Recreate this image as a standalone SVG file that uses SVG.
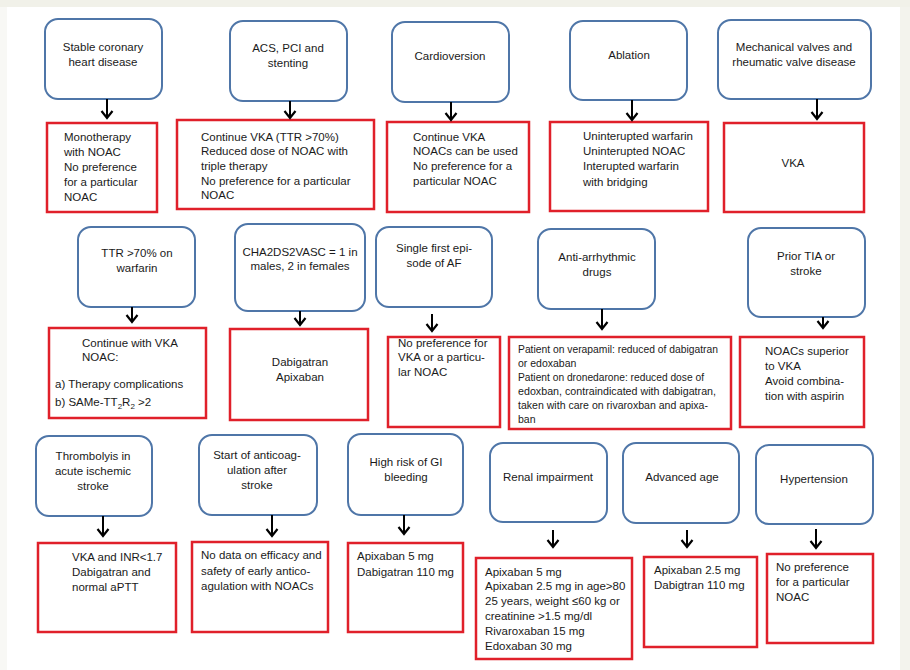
<svg xmlns="http://www.w3.org/2000/svg" width="910" height="670" viewBox="0 0 910 670">
<defs>
<style>
.n rect{fill:#fff;stroke:#4f76a8;stroke-width:2}
.r rect{fill:#fff;stroke:#e0202a;stroke-width:2.5}
text{font-family:"Liberation Sans",Arial,sans-serif;font-size:11.5px;fill:#1a1a1a}
.c{text-anchor:middle}
.s{font-size:10.5px}
.e line{stroke:#000;stroke-width:2;marker-end:url(#ah)}
</style>
<marker id="ah" viewBox="-1 -7 10 14" refX="7" refY="0" markerWidth="10" markerHeight="14" markerUnits="userSpaceOnUse" orient="auto">
<path d="M0,-5.5 L7,0 L0,5.5" fill="none" stroke="#000" stroke-width="2.2"/>
</marker>
</defs>
<rect width="910" height="670" fill="#fff"/>
<rect width="910" height="7" fill="#f1f1e9"/>
<rect x="0" y="7" width="7" height="663" fill="#f8f8f5"/>
<rect x="900" y="7" width="10" height="663" fill="#f3f3ed"/>

<g id="n1" class="n"><rect x="45" y="19" width="117" height="80" rx="13"/><text class="c" x="103" y="51">Stable coronary</text><text class="c" x="103" y="66">heart disease</text></g>
<g id="n2" class="n"><rect x="230" y="21" width="117" height="80" rx="13"/><text class="c" x="288" y="52">ACS, PCI and</text><text class="c" x="288" y="67">stenting</text></g>
<g id="n3" class="n"><rect x="392" y="22" width="117" height="80" rx="13"/><text class="c" x="450" y="60">Cardioversion</text></g>
<g id="n4" class="n"><rect x="570" y="21" width="117" height="79" rx="13"/><text class="c" x="629" y="59">Ablation</text></g>
<g id="n5" class="n"><rect x="718" y="20" width="153" height="79" rx="13"/><text class="c" x="794" y="51">Mechanical valves and</text><text class="c" x="794" y="66">rheumatic valve disease</text></g>

<g id="r1" class="r"><rect x="47" y="123" width="110" height="89"/><text x="64" y="141">Monotherapy</text><text x="64" y="156">with NOAC</text><text x="64" y="171">No preference</text><text x="64" y="186">for a particular</text><text x="64" y="201">NOAC</text></g>
<g id="r2" class="r"><rect x="177" y="120" width="197" height="89"/><text x="201" y="141">Continue VKA (TTR &gt;70%)</text><text x="201" y="155">Reduced dose of NOAC with</text><text x="201" y="170">triple therapy</text><text x="201" y="185">No preference for a particular</text><text x="201" y="199">NOAC</text></g>
<g id="r3" class="r"><rect x="387" y="122" width="142" height="90"/><text x="413" y="141">Continue VKA</text><text x="413" y="155">NOACs can be used</text><text x="413" y="170">No preference for a</text><text x="413" y="185">particular NOAC</text></g>
<g id="r4" class="r"><rect x="550" y="122" width="158" height="89"/><text x="583" y="140">Uninterupted warfarin</text><text x="583" y="155">Uninterupted NOAC</text><text x="583" y="170">Interupted warfarin</text><text x="583" y="186">with bridging</text></g>
<g id="r5" class="r"><rect x="724" y="123" width="140" height="89"/><text class="c" x="793" y="167">VKA</text></g>

<g id="n6" class="n"><rect x="78" y="227" width="117" height="80" rx="13"/><text class="c" x="137" y="257">TTR &gt;70% on</text><text class="c" x="137" y="272">warfarin</text></g>
<g id="n7" class="n"><rect x="235" y="224" width="130" height="87" rx="13"/><text class="c" x="300" y="256">CHA2DS2VASC = 1 in</text><text class="c" x="300" y="270">males, 2 in females</text></g>
<g id="n8" class="n"><rect x="376" y="227" width="116" height="80" rx="13"/><text class="c" x="434" y="252">Single first epi-</text><text class="c" x="434" y="267">sode of AF</text></g>
<g id="n9" class="n"><rect x="538" y="229" width="117" height="80" rx="13"/><text class="c" x="597" y="261">Anti-arrhythmic</text><text class="c" x="597" y="276">drugs</text></g>
<g id="n10" class="n"><rect x="748" y="228" width="117" height="89" rx="13"/><text class="c" x="806" y="260">Prior TIA or</text><text class="c" x="806" y="275">stroke</text></g>

<g id="r6" class="r"><rect x="49" y="328" width="157" height="90"/><text x="82" y="347">Continue with VKA</text><text x="82" y="361">NOAC:</text><text x="55" y="388">a) Therapy complications</text><text x="55" y="406">b) SAMe-TT<tspan font-size="8" dy="3">2</tspan><tspan dy="-3">R</tspan><tspan font-size="8" dy="3">2</tspan><tspan dy="-3"> &gt;2</tspan></text></g>
<g id="r7" class="r"><rect x="230" y="329" width="138" height="91"/><text class="c" x="300" y="366">Dabigatran</text><text class="c" x="300" y="381">Apixaban</text></g>
<g id="r8" class="r"><rect x="388" y="337" width="112" height="90"/><text x="398" y="347">No preference for</text><text x="398" y="361">VKA or a particu-</text><text x="398" y="376">lar NOAC</text></g>
<g id="r9" class="r"><rect x="509" y="337" width="222" height="92"/><text class="s" x="518" y="353" textLength="200" lengthAdjust="spacingAndGlyphs">Patient on verapamil: reduced of dabigatran</text><text class="s" x="518" y="367">or edoxaban</text><text class="s" x="518" y="381" textLength="186" lengthAdjust="spacingAndGlyphs">Patient on dronedarone: reduced dose of</text><text class="s" x="518" y="395" textLength="198" lengthAdjust="spacingAndGlyphs">edoxban, contraindicated with dabigatran,</text><text class="s" x="518" y="409" textLength="190" lengthAdjust="spacingAndGlyphs">taken with care on rivaroxban and apixa-</text><text class="s" x="518" y="423">ban</text></g>
<g id="r10" class="r"><rect x="740" y="337" width="124" height="90"/><text x="765" y="355">NOACs superior</text><text x="765" y="370">to VKA</text><text x="765" y="385">Avoid combina-</text><text x="765" y="400">tion with aspirin</text></g>

<g id="n11" class="n"><rect x="36" y="436" width="116" height="80" rx="13"/><text class="c" x="93" y="460">Thrombolyis in</text><text class="c" x="93" y="475">acute ischemic</text><text class="c" x="93" y="490">stroke</text></g>
<g id="n12" class="n"><rect x="199" y="435" width="118" height="80" rx="13"/><text class="c" x="257" y="459">Start of anticoag-</text><text class="c" x="257" y="474">ulation after</text><text class="c" x="257" y="489">stroke</text></g>
<g id="n13" class="n"><rect x="348" y="434" width="115" height="81" rx="13"/><text class="c" x="406" y="466">High risk of GI</text><text class="c" x="406" y="481">bleeding</text></g>
<g id="n14" class="n"><rect x="490" y="443" width="117" height="79" rx="13"/><text class="c" x="548" y="481">Renal impairment</text></g>
<g id="n15" class="n"><rect x="623" y="443" width="116" height="80" rx="13"/><text class="c" x="682" y="481">Advanced age</text></g>
<g id="n16" class="n"><rect x="756" y="445" width="117" height="79" rx="13"/><text class="c" x="814" y="483">Hypertension</text></g>

<g id="r11" class="r"><rect x="38" y="543" width="138" height="89"/><text x="72" y="561">VKA and INR&lt;1.7</text><text x="72" y="576">Dabigatran and</text><text x="72" y="591">normal aPTT</text></g>
<g id="r12" class="r"><rect x="192" y="542" width="136" height="90"/><text x="201" y="559">No data on efficacy and</text><text x="201" y="575">safety of early antico-</text><text x="201" y="590">agulation with NOACs</text></g>
<g id="r13" class="r"><rect x="348" y="543" width="115" height="89"/><text x="357" y="560">Apixaban 5 mg</text><text x="357" y="576">Dabigatran 110 mg</text></g>
<g id="r14" class="r"><rect x="476" y="558" width="156" height="101"/><text x="485" y="576">Apixaban 5 mg</text><text x="485" y="590">Apixaban 2.5 mg in age&gt;80</text><text x="485" y="605">25 years, weight ≤60 kg  or</text><text x="485" y="620">creatinine &gt;1.5 mg/dl</text><text x="485" y="635">Rivaroxaban 15 mg</text><text x="485" y="650">Edoxaban 30 mg</text></g>
<g id="r15" class="r"><rect x="644" y="557" width="113" height="90"/><text x="654" y="574">Apixaban 2.5 mg</text><text x="654" y="589">Dabigtran 110 mg</text></g>
<g id="r16" class="r"><rect x="767" y="554" width="106" height="89"/><text x="776" y="571">No preference</text><text x="776" y="586">for a particular</text><text x="776" y="601">NOAC</text></g>

<g id="connectors" class="e">
<line x1="107" y1="99" x2="107" y2="118"/>
<line x1="290" y1="101" x2="290" y2="118"/>
<line x1="451" y1="102" x2="451" y2="120"/>
<line x1="632" y1="100" x2="632" y2="120"/>
<line x1="817" y1="99" x2="817" y2="119"/>
<line x1="132" y1="307" x2="132" y2="322"/>
<line x1="300" y1="311" x2="300" y2="325"/>
<line x1="432" y1="314" x2="432" y2="331"/>
<line x1="602" y1="309" x2="602" y2="329"/>
<line x1="823" y1="317" x2="823" y2="328"/>
<line x1="103" y1="516" x2="103" y2="536"/>
<line x1="272" y1="515" x2="272" y2="536"/>
<line x1="404" y1="515" x2="404" y2="534"/>
<line x1="553" y1="530" x2="553" y2="547"/>
<line x1="687" y1="530" x2="687" y2="547"/>
<line x1="816" y1="529" x2="816" y2="548"/>
</g>
</svg>
